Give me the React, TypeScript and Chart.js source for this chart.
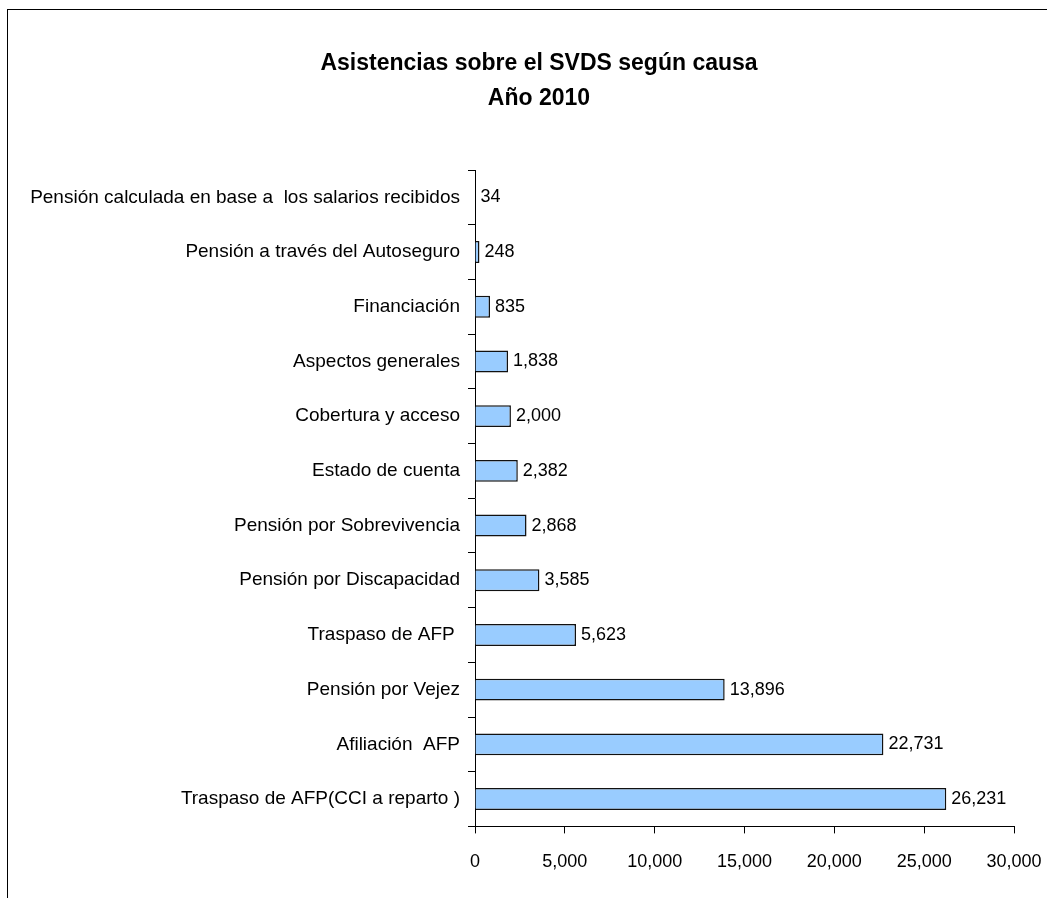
import React, { useEffect, useRef } from "react";
import { Chart, registerables } from "chart.js";

Chart.register(...registerables);

const categories = [
  "Pensión calculada en base a  los salarios recibidos",
  "Pensión a través del Autoseguro",
  "Financiación",
  "Aspectos generales",
  "Cobertura y acceso",
  "Estado de cuenta",
  "Pensión por Sobrevivencia",
  "Pensión por Discapacidad",
  "Traspaso de AFP ",
  "Pensión por Vejez",
  "Afiliación  AFP",
  "Traspaso de AFP(CCI a reparto )",
];

const values = [34, 248, 835, 1838, 2000, 2382, 2868, 3585, 5623, 13896, 22731, 26231];

const titleLines = ["Asistencias sobre el SVDS según causa", "Año 2010"];

const xMin = 0;
const xMax = 30000;
const xStep = 5000;

const FONT = "'Liberation Sans', Arial, sans-serif";

const valueLabels = {
  id: "valueLabels",
  afterDatasetsDraw(chart: any) {
    const ctx = chart.ctx;
    const meta = chart.getDatasetMeta(0);
    ctx.save();
    ctx.font = `18px ${FONT}`;
    ctx.fillStyle = "#000";
    ctx.textAlign = "left";
    ctx.textBaseline = "middle";
    meta.data.forEach((el: any, i: number) => {
      ctx.fillText(values[i].toLocaleString("en-US"), el.x + 5, el.y);
    });
    ctx.restore();
  },
};

const titleDraw = {
  id: "titleDraw",
  afterDraw(chart: any) {
    const ctx = chart.ctx;
    ctx.save();
    ctx.font = `bold 23px ${FONT}`;
    ctx.fillStyle = "#000";
    ctx.textAlign = "center";
    ctx.textBaseline = "middle";
    const cx = 539;
    titleLines.forEach((line, i) => {
      ctx.fillText(line, cx, 63.5 + i * 35);
    });
    ctx.restore();
  },
};

export default function App() {
  const ref = useRef<HTMLCanvasElement>(null);
  useEffect(() => {
    document.body.style.overflow = "hidden";
    const chart = new Chart(ref.current!, {
      type: "bar",
      data: {
        labels: categories,
        datasets: [
          {
            data: values,
            backgroundColor: "#99CCFF",
            borderColor: "#111",
            borderWidth: 1.5,
            barPercentage: 0.4,
            categoryPercentage: 1,
          },
        ],
      },
      plugins: [valueLabels, titleDraw],
      options: {
        indexAxis: "y",
        animation: false,
        responsive: false,
        layout: { padding: { left: 15, right: 86, top: 170, bottom: 7 } },
        plugins: {
          legend: { display: false },
          tooltip: { enabled: false },
          title: { display: false },
        },
        scales: {
          x: {
            min: xMin,
            max: xMax,
            ticks: {
              stepSize: xStep,
              color: "#000",
              font: { family: FONT, size: 18 },
              padding: 18,
              callback: (v: any) => Number(v).toLocaleString("en-US"),
            },
            grid: { drawOnChartArea: false, tickLength: 7, color: "#000" },
            border: { color: "#000", width: 1 },
          },
          y: {
            afterFit: (scale: any) => {
              scale.width = 460;
            },
            ticks: {
              color: "#000",
              font: { family: FONT, size: 19 },
              padding: 8,
            },
            grid: { drawOnChartArea: false, tickLength: 7, color: "#000", offset: true },
            border: { color: "#000", width: 1 },
          },
        },
      },
    });
    return () => chart.destroy();
  }, []);
  return (
    <div>
      <div
        style={{
          position: "fixed",
          left: 7,
          top: 9,
          width: 1200,
          height: 1000,
          border: "1px solid #000",
          boxSizing: "border-box",
        }}
      />
      <canvas
        ref={ref}
        width={1100}
        height={898}
        style={{ position: "fixed", left: 0, top: 0, width: 1100, height: 898 }}
      />
    </div>
  );
}
